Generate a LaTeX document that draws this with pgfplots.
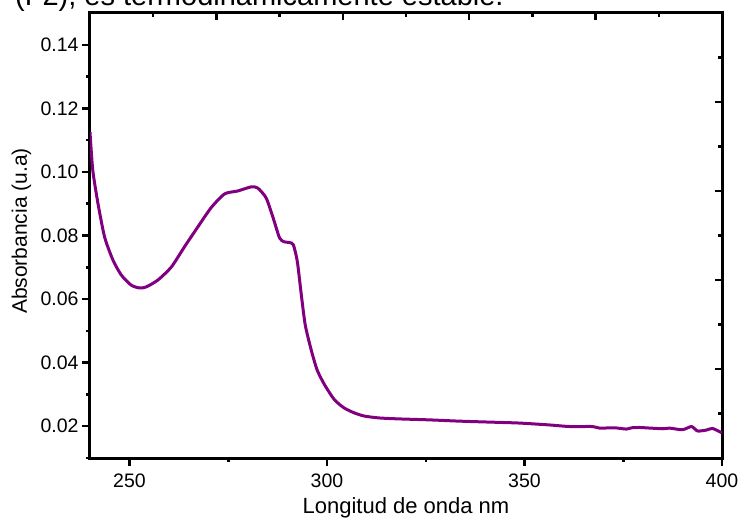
\documentclass[border=0pt]{standalone}
\usepackage{fontspec}
\setmainfont{Liberation Sans}
\usepackage{pgfplots}
\pgfplotsset{compat=1.18}
\definecolor{curve}{RGB}{128,0,128}
\begin{document}
\begin{tikzpicture}
\useasboundingbox (-90bp,-61bp) rectangle (648bp,458bp);
\node[anchor=base west, inner sep=0pt, font=\fontsize{29bp}{34bp}\selectfont] at (-75bp,452bp) {(F2), es termodinámicamente estable.};
\begin{axis}[
  at={(0,0)}, anchor=south west,
  scale only axis, width=632bp, height=445bp,
  xmin=240, xmax=400, ymin=0.01, ymax=0.15,
  xtick={250,300,350,400}, minor xtick={275,325,375},
  ytick={0.02,0.04,0.06,0.08,0.10,0.12,0.14},
  minor ytick={0.01,0.03,0.05,0.07,0.09,0.11,0.13},
  xtick pos=bottom, ytick pos=left, tick align=outside,
  major tick length=8bp, minor tick length=4bp,
  every tick/.style={line width=2.5bp, black},
  axis line style={line width=3bp},
  /pgf/number format/assume math mode=true,
  tick label style={font=\fontsize{19.5bp}{22bp}\selectfont},
  y tick label style={/pgf/number format/.cd, fixed, fixed zerofill, precision=2},
  x tick label style={yshift=-4bp},
  xlabel={Longitud de onda nm},
  ylabel={Absorbancia (u.a)},
  xlabel style={font=\fontsize{22bp}{26bp}\selectfont, at={(axis description cs:0.5,0)}, anchor=base, yshift=-55bp},
  ylabel style={font=\fontsize{21bp}{25bp}\selectfont, at={(axis description cs:-0.0997,0.51)}, anchor=base},
]
\addplot[curve, line width=3bp, smooth, tension=0.4] coordinates {
(240,0.1125) (240.7,0.1006) (242.0,0.0902) (243.7,0.0795) (245.8,0.0723)
(247.9,0.0676) (250.4,0.0644) (252.5,0.0635) (254.2,0.0638) (257.2,0.066)
(260.6,0.0701) (263.9,0.0764) (267.3,0.0827) (270.7,0.0888) (274.1,0.0931)
(277.4,0.094) (280.8,0.0953) (282.5,0.0949) (284.6,0.0918) (286.3,0.0858)
(288.0,0.0792) (289.2,0.0780) (290.5,0.0778) (291.5,0.077) (292.5,0.0717)
(293.5,0.0613) (294.5,0.0518) (296,0.044) (297.5,0.0377) (299.4,0.033)
(301.9,0.0283) (304.4,0.0257) (306.9,0.0242) (309.4,0.0232) (313.2,0.0226)
(318.2,0.0223) (325.8,0.022) (333.4,0.0216) (341,0.0213) (348.6,0.021)
(356.3,0.0204) (361.4,0.0199) (367.2,0.0199) (369,0.0194) (372.8,0.0195)
(375.8,0.0191) (377.1,0.0195) (379.1,0.0196) (384.9,0.0192) (386.7,0.0194)
(390,0.0189) (392.3,0.0199) (393.8,0.0185) (396.1,0.0188) (397.6,0.0193)
(400,0.0179)
};
\end{axis}
\begin{axis}[
  at={(0,0)}, anchor=south west,
  scale only axis, width=632bp, height=445bp,
  xmin=0, xmax=10, ymin=0, ymax=10,
  xtick={2,4,6,8}, minor xtick={1,3,5,7,9},
  ytick={2,4,6,8}, minor ytick={1,3,5,7,9},
  xtick pos=top, ytick pos=right, tick align=inside,
  major tick length=7bp, minor tick length=4bp,
  every tick/.style={line width=2.5bp, black},
  axis line style={draw=none},
  xticklabels={}, yticklabels={},
]
\end{axis}
\end{tikzpicture}
\end{document}
